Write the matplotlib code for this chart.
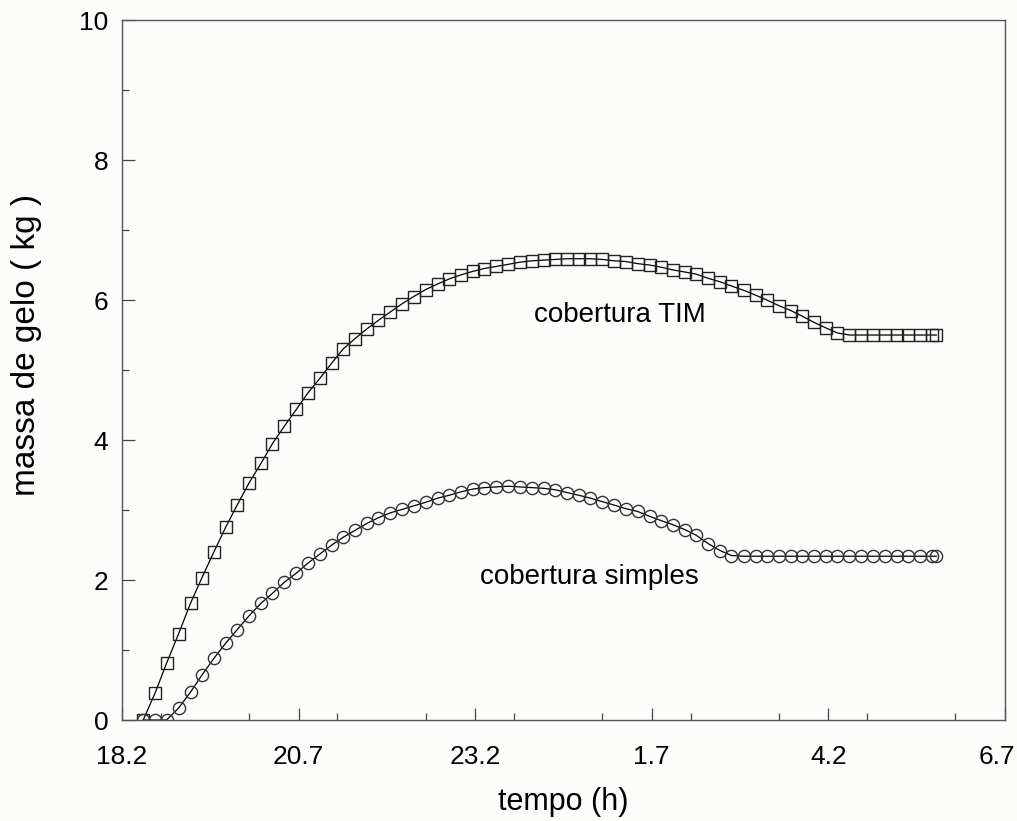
import matplotlib.pyplot as plt
import matplotlib.transforms as mtransforms
from matplotlib.ticker import MultipleLocator

plt.rcParams['font.family'] = ['Liberation Sans', 'DejaVu Sans']

# tempo em horas decorridas (18.5 = 18:30, passos de 10 min)
tempo = [18.50, 18.67, 18.83, 19.00, 19.17, 19.33, 19.50, 19.67, 19.83, 20.00,
         20.17, 20.33, 20.50, 20.67, 20.83, 21.00, 21.17, 21.33, 21.50, 21.67,
         21.83, 22.00, 22.17, 22.33, 22.50, 22.67, 22.83, 23.00, 23.17, 23.33,
         23.50, 23.67, 23.83, 24.00, 24.17, 24.33, 24.50, 24.67, 24.83, 25.00,
         25.17, 25.33, 25.50, 25.67, 25.83, 26.00, 26.17, 26.33, 26.50, 26.67,
         26.83, 27.00, 27.17, 27.33, 27.50, 27.67, 27.83, 28.00, 28.17, 28.33,
         28.50, 28.67, 28.83, 29.00, 29.17, 29.33, 29.50, 29.67, 29.73]

# massa de gelo (kg) - cobertura TIM
massa_tim = [0.00, 0.39, 0.81, 1.23, 1.67, 2.03, 2.40, 2.76, 3.07, 3.39,
             3.67, 3.95, 4.20, 4.44, 4.67, 4.88, 5.10, 5.30, 5.45, 5.59,
             5.71, 5.83, 5.95, 6.05, 6.15, 6.23, 6.30, 6.36, 6.41, 6.45,
             6.48, 6.51, 6.54, 6.56, 6.57, 6.58, 6.59, 6.59, 6.59, 6.58,
             6.56, 6.55, 6.52, 6.50, 6.47, 6.43, 6.40, 6.37, 6.31, 6.26,
             6.20, 6.14, 6.07, 6.00, 5.92, 5.85, 5.77, 5.68, 5.60, 5.53,
             5.50, 5.50, 5.50, 5.50, 5.50, 5.50, 5.50, 5.50, 5.50]

# massa de gelo (kg) - cobertura simples
massa_simples = [0.00, 0.00, 0.00, 0.17, 0.40, 0.64, 0.88, 1.10, 1.29, 1.49,
                 1.67, 1.81, 1.97, 2.10, 2.24, 2.37, 2.50, 2.61, 2.71, 2.81,
                 2.89, 2.96, 3.01, 3.06, 3.11, 3.17, 3.21, 3.26, 3.30, 3.32,
                 3.33, 3.34, 3.33, 3.32, 3.31, 3.29, 3.25, 3.21, 3.17, 3.12,
                 3.07, 3.02, 2.98, 2.91, 2.85, 2.79, 2.72, 2.64, 2.52, 2.42,
                 2.35, 2.34, 2.34, 2.34, 2.34, 2.34, 2.34, 2.34, 2.34, 2.34,
                 2.34, 2.34, 2.34, 2.34, 2.34, 2.34, 2.34, 2.34, 2.34]

xticks = [18.2, 20.7, 23.2, 25.7, 28.2, 30.7]
xticklabels = ['18.2', '20.7', '23.2', '1.7', '4.2', '6.7']
yticks = [0, 2, 4, 6, 8, 10]

fig = plt.figure(figsize=(10.17, 8.21), dpi=100)
fig.patch.set_facecolor('#fcfcfa')
ax = fig.add_axes([0.12, 0.123, 0.868, 0.8526])
ax.set_facecolor('#fcfcfa')

ax.plot(tempo, massa_tim, color='black', lw=0.9, marker='s', ms=9,
        mfc='none', mec='#222222', mew=1.0)
ax.plot(tempo, massa_simples, color='black', lw=0.9, marker='o', ms=8.8,
        mfc='none', mec='#333333', mew=1.0)

ax.text(24.04, 5.79, 'cobertura TIM', fontsize=20, va='center')
ax.text(23.27, 2.04, 'cobertura simples', fontsize=20, va='center')

ax.set_xlim(18.2, 30.7)
ax.set_ylim(0, 10)
ax.set_xticks(xticks)
ax.set_xticklabels(xticklabels)
ax.set_yticks(yticks)
ax.xaxis.set_minor_locator(MultipleLocator(1.25))
ax.yaxis.set_minor_locator(MultipleLocator(1))
ax.tick_params(which='both', direction='in', labelsize=19, color='#444444')
ax.tick_params(which='major', length=9, width=0.9)
ax.tick_params(which='minor', length=5, width=0.9)
ax.tick_params(axis='x', which='major', pad=18)
ax.tick_params(axis='y', which='major', pad=10)
for s in ax.spines.values():
    s.set_linewidth(1.0)
    s.set_color('#555555')

# keep the last x label inside the picture
last = ax.get_xticklabels()[-1]
last.set_transform(last.get_transform() +
                   mtransforms.ScaledTranslation(-6 / 72, 0, fig.dpi_scale_trans))

ax.set_xlabel('tempo (h)', fontsize=22, labelpad=13)
ax.set_ylabel('massa de gelo ( kg )', fontsize=24)
ax.yaxis.set_label_coords(-0.091, 0.536)

fig.savefig('out.png', dpi=100, facecolor=fig.get_facecolor())
